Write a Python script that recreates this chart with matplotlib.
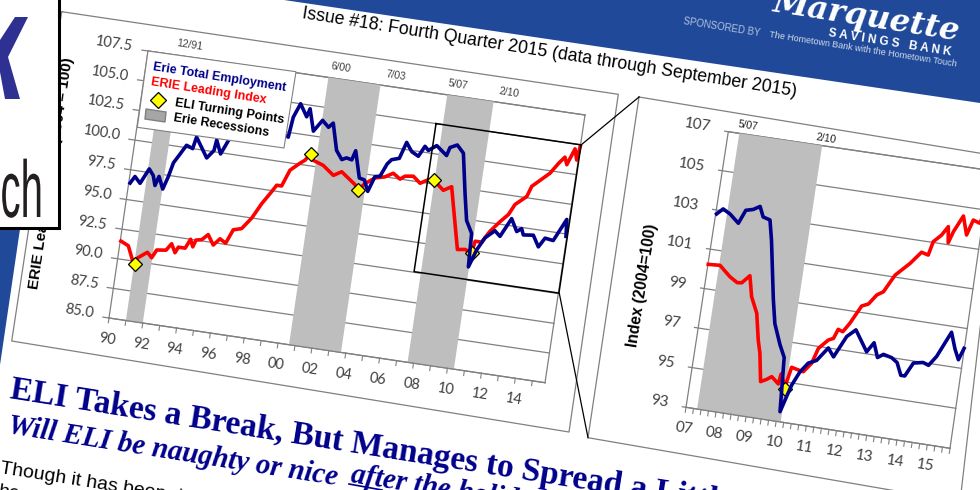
# Erie Leading Index newsletter page, photographed at a slant
import numpy as np
import matplotlib
matplotlib.use("Agg")
import matplotlib.pyplot as plt
import matplotlib.patheffects as path_effects
import matplotlib.transforms as mtransforms

# left chart, long history
left_red_x = [1990.04, 1990.51, 1990.89, 1991.05, 1991.14, 1991.67, 1991.96, 1992.19, 1992.73, 1993.00, 1993.27, 1993.42, 1993.82, 1994.06, 1994.25, 1994.38, 1994.71, 1995.04, 1995.42, 1995.76, 1996.12, 1996.45, 1996.92, 1997.42, 1997.87, 1998.34, 1998.58, 1998.87, 1999.22, 1999.74, 2000.00, 2000.28, 2000.48, 2001.10, 2001.77, 2002.22, 2003.10, 2003.32, 2003.66, 2004.20, 2004.76, 2005.21, 2005.65, 2005.91, 2006.39, 2006.84, 2007.29, 2007.63, 2008.24, 2008.69, 2009.20, 2009.56, 2010.00, 2010.41, 2010.51, 2010.89, 2011.28, 2011.77, 2012.20, 2012.49, 2013.10, 2013.30, 2014.24, 2014.64, 2014.96, 2015.13, 2015.47, 2015.66, 2015.75]
left_red_y = [91.5, 91.2, 90.0, 89.8, 90.3, 90.9, 90.5, 91.2, 91.3, 91.9, 91.2, 91.7, 91.7, 92.5, 91.9, 92.5, 92.6, 93.1, 92.3, 92.9, 92.6, 93.8, 94.0, 95.0, 96.3, 97.4, 98.0, 98.0, 99.4, 100.1, 100.4, 101.0, 100.5, 100.2, 99.5, 99.9, 99.0, 98.6, 99.2, 99.8, 100.0, 100.4, 100.0, 100.3, 100.4, 99.9, 100.3, 100.3, 99.6, 100.0, 97.0, 94.9, 95.0, 94.8, 95.8, 95.8, 96.8, 97.7, 98.4, 99.3, 100.1, 101.0, 102.3, 103.2, 103.8, 103.2, 104.6, 103.7, 104.9]
left_blue_x = [1990.08, 1990.31, 1990.66, 1991.07, 1991.36, 1991.54, 1991.70, 1992.02, 1992.24, 1992.42, 1992.69, 1993.03, 1993.41, 1993.54, 1994.30, 1994.66, 1994.73, 1995.07, 1995.41, 1996.29, 1997.45, 1998.84, 1998.96, 1999.27, 1999.73, 1999.86, 2000.24, 2000.68, 2001.08, 2001.32, 2001.74, 2002.12, 2002.38, 2002.70, 2002.85, 2003.29, 2003.60, 2003.89, 2004.18, 2004.47, 2004.78, 2005.00, 2005.43, 2005.72, 2006.09, 2006.51, 2006.81, 2007.04, 2007.48, 2008.13, 2008.26, 2008.66, 2009.08, 2009.52, 2009.84, 2010.24, 2010.34, 2010.67, 2011.05, 2011.56, 2011.90, 2012.42, 2012.82, 2013.08, 2013.23, 2013.81, 2014.20, 2014.51, 2015.00, 2015.60, 2015.70]
left_blue_y = [96.4, 97.0, 96.5, 97.8, 97.3, 96.5, 97.3, 96.3, 97.4, 98.6, 99.3, 100.2, 100.0, 101.0, 99.4, 100.1, 101.0, 99.9, 101.1, 103.0, 103.3, 102.1, 103.8, 105.0, 104.0, 104.7, 102.9, 103.9, 103.4, 103.8, 101.6, 100.9, 101.1, 101.0, 101.8, 99.6, 99.5, 98.6, 99.9, 100.0, 101.1, 101.5, 101.7, 103.1, 102.4, 102.1, 103.0, 102.7, 103.2, 102.5, 103.2, 103.5, 102.9, 99.6, 97.4, 96.4, 93.6, 95.1, 96.2, 96.9, 96.5, 98.1, 97.1, 97.4, 96.9, 97.0, 96.1, 96.9, 96.8, 98.7, 97.3]
left_turn_x = [1991.05, 2000.28, 2003.32, 2007.63, 2010.41]
left_turn_y = [89.8, 101.0, 98.6, 100.3, 94.8]
left_bands = [(1991.0, 1992.0), (2000.65, 2003.72), (2007.65, 2010.38)]
left_band_labels = ["12/91", "6/00", "7/03", "5/07", "2/10"]
left_yticks = [85.0, 87.5, 90.0, 92.5, 95.0, 97.5, 100.0, 102.5, 105.0, 107.5]
left_xlabels = ["90", "92", "94", "96", "98", "00", "02", "04", "06", "08", "10", "12", "14"]

# right chart, zoom on the last recession
right_red_x = [2007.01, 2007.40, 2007.78, 2008.05, 2008.20, 2008.43, 2008.59, 2008.84, 2009.02, 2009.14, 2009.30, 2009.49, 2009.64, 2009.89, 2009.93, 2010.12, 2010.24, 2010.47, 2010.64, 2010.87, 2011.02, 2011.30, 2011.46, 2011.57, 2011.73, 2011.92, 2012.22, 2012.43, 2012.66, 2012.86, 2013.07, 2013.16, 2013.59, 2013.91, 2014.14, 2014.24, 2014.48, 2014.66, 2014.73, 2014.85, 2015.10, 2015.29, 2015.44, 2015.67, 2015.75]
right_red_y = [100.23, 100.27, 99.78, 99.54, 99.57, 99.98, 98.95, 98.17, 96.86, 96.22, 94.83, 94.99, 95.16, 94.85, 95.36, 94.77, 95.77, 95.69, 95.64, 96.12, 96.91, 97.39, 97.51, 97.99, 97.91, 98.38, 99.32, 99.47, 99.98, 100.19, 100.83, 101.10, 101.79, 102.43, 102.34, 103.04, 103.43, 103.90, 103.10, 103.69, 104.54, 103.62, 104.41, 104.30, 104.80]
right_blue_x = [2007.03, 2007.22, 2007.47, 2007.79, 2007.97, 2008.21, 2008.42, 2008.57, 2008.81, 2008.96, 2009.31, 2009.48, 2009.75, 2009.95, 2010.08, 2010.22, 2010.33, 2010.53, 2010.76, 2011.02, 2011.34, 2011.55, 2011.88, 2012.15, 2012.60, 2012.80, 2012.98, 2013.16, 2013.44, 2013.64, 2013.82, 2013.95, 2014.17, 2014.48, 2014.67, 2014.89, 2015.26, 2015.45, 2015.61, 2015.74]
right_blue_y = [102.8, 103.1, 102.9, 102.5, 103.2, 103.3, 103.5, 103.0, 102.9, 101.9, 99.0, 97.8, 96.8, 96.2, 93.5, 94.3, 94.9, 95.6, 96.1, 96.3, 97.0, 96.6, 97.7, 98.1, 97.1, 97.6, 96.9, 97.1, 97.0, 96.8, 96.2, 96.2, 96.9, 97.0, 96.9, 97.4, 98.7, 97.9, 97.4, 98.0]
right_turn_x = [2010.13]
right_turn_y = [94.65]
right_band = (2007.37, 2010.15)
right_yticks = [93, 95, 97, 99, 101, 103, 105, 107]
right_xlabels = ["07", "08", "09", "10", "11", "12", "13", "14", "15"]

BLUE = "#00008B"
RED = "#FF0000"
GREY = "#808080"
BAND = "#BEBEBE"
TICK_TXT = "#404040"
ANGLE = -9


class Skew(mtransforms.Transform):
    # projective map from chart values to page pixels
    input_dims = 2
    output_dims = 2

    def __init__(self, src, dst):
        super().__init__()
        rows = []
        for (x, y), (u, v) in zip(src, dst):
            rows.append([x, y, 1, 0, 0, 0, -u * x, -u * y, -u])
            rows.append([0, 0, 0, x, y, 1, -v * x, -v * y, -v])
        self.m = np.linalg.svd(np.array(rows))[2][-1].reshape(3, 3)

    def transform_non_affine(self, values):
        values = np.asarray(values, dtype=float)
        p = np.column_stack([values, np.ones(len(values))]) @ self.m.T
        return p[:, :2] / p[:, 2:]


class SqueezeX(path_effects.AbstractPathEffect):
    # narrows the glyphs about a fixed x, the logo lettering is a condensed face
    def __init__(self, x, factor):
        super().__init__()
        self.x = x
        self.factor = factor

    def draw_path(self, renderer, gc, tpath, affine, rgbFace=None):
        squeeze = mtransforms.Affine2D().translate(-self.x, 0).scale(self.factor, 1).translate(self.x, 0)
        renderer.draw_path(gc, tpath, affine + squeeze, rgbFace)


fig = plt.figure(figsize=(9.8, 4.9), dpi=100)
page = fig.add_axes([0, 0, 1, 1])
page.set_xlim(0, 980)
page.set_ylim(490, 0)
page.axis("off")
page.set_autoscale_on(False)

# page furniture
page.fill([284, 980, 980], [0, 103, 0], color="#204A99", lw=0)
page.fill([0, 20, 0], [229, 229, 365], color="#204A99", lw=0)
page.plot([61.7, 618.3, 569, 11.7, 61.7], [11.7, 94.3, 432, 341, 11.7], color=GREY, lw=0.9, zorder=1)
page.plot([639, 1000, 960, 588, 639], [97, 156.5, 502, 437.7, 97], color=GREY, lw=0.9, zorder=1)


def draw_chart(skew, xlim, ylim, yticks, xticks, minor, ylabel_fmt, bands, xlabels, gap, size):
    t = skew + page.transData
    x0, x1 = xlim
    y0, y1 = ylim
    for b0, b1 in bands:
        page.fill([b0, b1, b1, b0], [y0, y0, y1, y1], color=BAND, lw=0, transform=t, zorder=2)
    # ticks and grid, the bands sit on top of the grid
    ticklen = (x1 - x0) * 0.014
    for v in yticks:
        page.plot([x0 - ticklen, x1], [v, v], color=GREY, lw=0.9, transform=t, zorder=1.5)
        px = skew.transform_non_affine(np.array([[x0, v]]))[0]
        page.text(px[0] - gap, px[1] - 4, ylabel_fmt % v, family="Lato", fontsize=size, color=TICK_TXT,
                  rotation=ANGLE, rotation_mode="anchor", ha="right", va="center")
    page.plot([x0, x0], [y0, y1], color=GREY, lw=0.9, transform=t, zorder=2.5)
    page.plot([x1, x1], [y0, y1], color=GREY, lw=0.9, transform=t, zorder=2.5)
    page.plot([x0, x1], [y0, y0], color=GREY, lw=0.9, transform=t, zorder=2.5)
    page.plot([x0, x1], [y1, y1], color=GREY, lw=0.9, transform=t, zorder=1.5)
    ticky = (y1 - y0) * 0.018
    for v in minor:
        page.plot([v, v], [y0, y0 - ticky], color=GREY, lw=0.8, transform=t, zorder=2.5)
    for v, lab in zip(xticks, xlabels):
        px = skew.transform_non_affine(np.array([[v, y0]]))[0]
        page.text(px[0] - 2, px[1] + 21, lab, family="Lato", fontsize=size, color=TICK_TXT,
                  rotation=ANGLE, rotation_mode="anchor", ha="center", va="center")
    return t


skew_left = Skew([(1990, 85), (2015.75, 85), (1990, 107.5), (2015.75, 107.5)],
                 [(109, 318), (545, 382.7), (148, 51), (585, 115)])
skew_right = Skew([(2007, 93), (2015.75, 93), (2007, 107), (2015.75, 107)],
                  [(686, 407.3), (950, 448.3), (728.3, 131.7), (990, 170.5)])

t_left = draw_chart(skew_left, (1990, 2015.75), (85, 107.5), left_yticks, np.arange(1990, 2016, 2),
                    np.arange(1990, 2016, 1), "%.1f", left_bands, left_xlabels, 15, 10.5)
t_right = draw_chart(skew_right, (2007, 2015.75), (93, 107), right_yticks, np.arange(2007, 2016, 1),
                     np.arange(2007, 2015.76, 0.25), "%d", [right_band], right_xlabels, 18, 11)

for t, rx, ry, bx, by, dx, dy in [
    (t_left, left_red_x, left_red_y, left_blue_x, left_blue_y, left_turn_x, left_turn_y),
    (t_right, right_red_x, right_red_y, right_blue_x, right_blue_y, right_turn_x, right_turn_y),
]:
    page.plot(rx, ry, color=RED, lw=2.6, transform=t, zorder=3, solid_joinstyle="round")
    page.plot(dx, dy, ls="none", marker="D", ms=7.5, mfc="#FFFF00", mec="black", mew=0.9, transform=t, zorder=3.5)
    page.plot(bx, by, color=BLUE, lw=2.6, transform=t, zorder=4, solid_joinstyle="round")

# zoom box on the left chart and the lines to the right one
page.plot([2007.25, 2015.78, 2015.78, 2007.25, 2007.25], [105, 105, 92.55, 92.55, 105], color="black", lw=1.1,
          transform=t_left, zorder=5)
page.plot([581, 639], [145, 97], color="black", lw=0.9, zorder=5)
page.plot([559.3, 588], [293.3, 437.7], color="black", lw=0.9, zorder=5)

# date labels over the recession bands
for (x, y), lab in zip([(190, 45), (341, 68), (396, 76), (458, 85), (509, 93)], left_band_labels):
    page.text(x, y, lab, family="Liberation Sans", fontsize=7.5, color=TICK_TXT, rotation=ANGLE,
              rotation_mode="anchor", ha="center", va="center")
page.text(748, 126, "5/07", family="Liberation Sans", fontsize=7.5, color="#202020", rotation=ANGLE,
          rotation_mode="anchor", ha="center", va="center")
page.text(826, 139, "2/10", family="Liberation Sans", fontsize=7.5, color="#202020", rotation=ANGLE,
          rotation_mode="anchor", ha="center", va="center")

page.text(51.5, 173, "ERIE Leading Index (2004 = 100)", family="Liberation Sans", weight="bold", fontsize=11,
          rotation=81.5, rotation_mode="anchor", ha="center", va="center", zorder=3)
page.text(642.5, 285.5, "Index (2004=100)", family="Liberation Sans", weight="bold", fontsize=11.2,
          rotation=81, rotation_mode="anchor", ha="center", va="center", zorder=3)

# legend box
page.fill([148, 296, 284, 137.3], [51, 71.7, 148, 127.3], facecolor="white", edgecolor=GREY, lw=0.8, zorder=6)
for x, y, lab, col in [(153, 67, "Erie Total Employment", BLUE), (151, 82, "ERIE Leading Index", RED),
                       (175, 103, "ELI Turning Points", "black"), (173, 118, "Erie Recessions", "black")]:
    page.text(x, y, lab, family="Liberation Sans", weight="bold", fontsize=9, color=col, rotation=ANGLE,
              rotation_mode="anchor", ha="left", va="center", zorder=7)
page.plot([157.5], [100], marker="D", ms=8.5, mfc="#FFFF00", mec="black", mew=0.9, ls="none", zorder=7)
page.fill([146, 166, 165, 145], [109, 112, 122, 119], facecolor="#A6A6A6", edgecolor=GREY, lw=1, zorder=7)

# white logo card at the top left
page.fill([-5, 59, 59, -5], [-5, -5, 228, 228], facecolor="white", edgecolor="black", lw=2.2, zorder=8)
page.fill([0, 15, 28, 8, 20, 5, 0], [40, 17, 17, 57, 99, 99, 72], color="#2E3192", lw=0, zorder=9)
page.text(43, 217, "ch", family="Liberation Sans", fontsize=58, color="#231F20", ha="right", va="baseline",
          zorder=9, path_effects=[SqueezeX(43, 0.5)])

# header
page.text(302, 14, "Issue #18: Fourth Quarter 2015 (data through September 2015)", family="Liberation Sans",
          fontsize=12.8, rotation=ANGLE, rotation_mode="anchor", ha="left", va="center", zorder=10)
page.text(867, 17, "Marquette", family="DejaVu Serif", style="italic", weight="bold", fontsize=23, color="white",
          rotation=ANGLE, rotation_mode="anchor", ha="center", va="center")
page.text(890, 43, "S A V I N G S   B A N K", family="Liberation Sans", weight="bold", fontsize=8.5, color="white",
          rotation=ANGLE, rotation_mode="anchor", ha="center", va="center")
page.text(683, 21, "SPONSORED BY", family="Liberation Sans", fontsize=7, color="#B4C3DD",
          rotation=ANGLE, rotation_mode="anchor", ha="left", va="center")
page.text(769, 35, "The Hometown Bank with the Hometown Touch", family="Liberation Sans", fontsize=6.5,
          color="#D0DAEA", rotation=ANGLE, rotation_mode="anchor", ha="left", va="center")

# article heading and first lines
page.text(9, 398, "ELI Takes a Break, But Manages to Spread a Little Holiday Cheer", family="Liberation Serif",
          weight="bold", fontsize=24, color=BLUE, rotation=ANGLE, rotation_mode="anchor", ha="left", va="baseline")
page.text(7, 433, "Will ELI be naughty or nice", family="Liberation Serif", weight="bold", style="italic",
          fontsize=20.8, color=BLUE, rotation=ANGLE, rotation_mode="anchor", ha="left", va="baseline")
page.text(350, 482, "after the holidays?", family="Liberation Serif", weight="bold", style="italic", fontsize=20.8,
          color=BLUE, rotation=ANGLE, rotation_mode="anchor", ha="left", va="baseline")
page.plot([349, 382], [484, 490], color=BLUE, lw=1.2)
page.text(0, 473, "Though it has been ri", family="Liberation Sans", fontsize=14, color="black", rotation=ANGLE,
          rotation_mode="anchor", ha="left", va="baseline")
page.text(-2, 496, "he", family="Liberation Sans", fontsize=14, color="black", rotation=ANGLE,
          rotation_mode="anchor", ha="left", va="baseline")

fig.savefig("out.png", dpi=100)
